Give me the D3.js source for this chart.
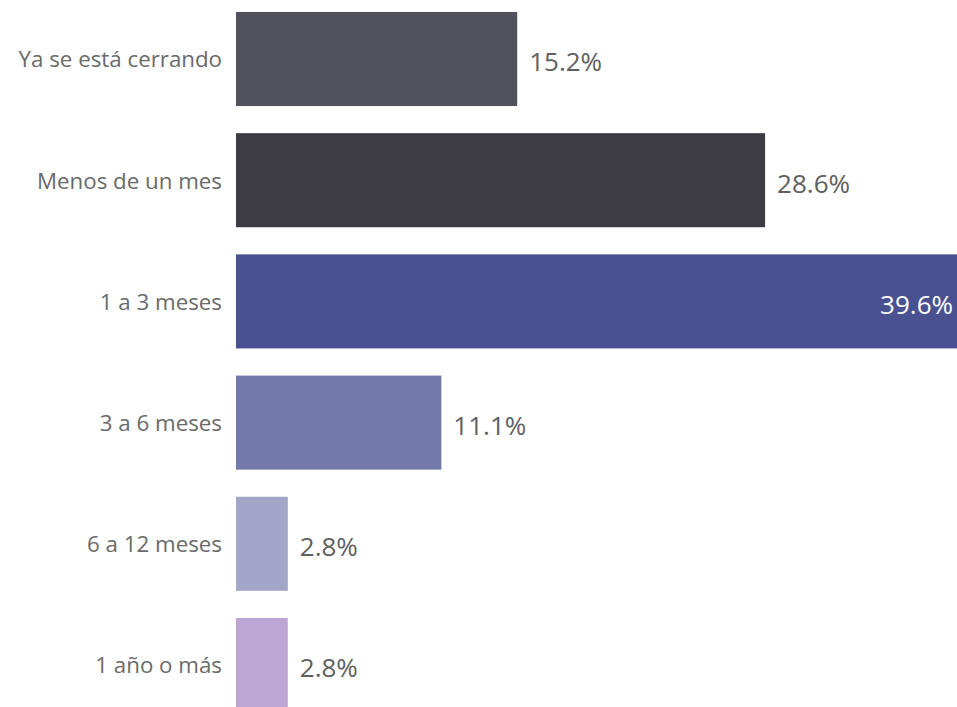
<!DOCTYPE html>
<html>
<head>
<meta charset="utf-8">
<script src="https://cdn.jsdelivr.net/npm/d3@7"></script>
<style>
  html, body { margin: 0; padding: 0; background: #fff; overflow: hidden; }
  svg { display: block; }
  text { font-family: "Open Sans", "Noto Sans", sans-serif; }
</style>
</head>
<body>
<svg id="chart" width="957" height="707"></svg>
<script>
// Time remaining estimate, share of responses
const categories = ["Ya se está cerrando", "Menos de un mes", "1 a 3 meses", "3 a 6 meses", "6 a 12 meses", "1 año o más"];
const values = [15.2, 28.6, 39.6, 11.1, 2.8, 2.8];
const colors = ["#52525c", "#3c3c42", "#4a5190", "#7479ab", "#a3a6c8", "#bda6d4"];

const W = 957, H = 707;
const svg = d3.select("#chart");

const x = d3.scaleLinear().domain([0, 40]).range([236, 976]);
const y = d3.scaleBand()
  .domain(categories)
  .range([-1.6, 725.6])
  .paddingInner(0.224)
  .paddingOuter(0.112);

const rows = categories.map((c, i) => ({ c, v: values[i], col: colors[i] }));

svg.selectAll("rect.bar")
  .data(rows)
  .join("rect")
  .attr("class", "bar")
  .attr("x", x(0))
  .attr("y", d => y(d.c))
  .attr("width", d => x(d.v) - x(0))
  .attr("height", y.bandwidth())
  .attr("fill", d => d.col);

// Category labels on the left
const yAxis = d3.axisLeft(y).tickSize(0).tickPadding(14);
const ga = svg.append("g").attr("transform", `translate(${x(0)},0)`).call(yAxis);
ga.select(".domain").remove();
ga.selectAll("text")
  .attr("font-family", "'Open Sans', 'Noto Sans', sans-serif")
  .attr("font-size", 22.3)
  .attr("dy", "0.38em")
  .attr("fill", "#6a6a6a");

// Value labels: outside the bar, or inside when the bar runs off the edge
const fmt = v => v.toFixed(1) + "%";
svg.selectAll("text.val")
  .data(rows)
  .join("text")
  .attr("class", "val")
  .each(function(d) {
    const end = x(d.v);
    const t = d3.select(this);
    if (end + 90 > W) {
      t.attr("x", W - 4).attr("text-anchor", "end").attr("fill", "#fff");
    } else {
      t.attr("x", end + 12).attr("text-anchor", "start").attr("fill", "#606060");
    }
  })
  .attr("y", d => y(d.c) + y.bandwidth() / 2 + 3)
  .attr("dy", "0.36em")
  .attr("font-size", 26)
  .text(d => fmt(d.v));
</script>
</body>
</html>
